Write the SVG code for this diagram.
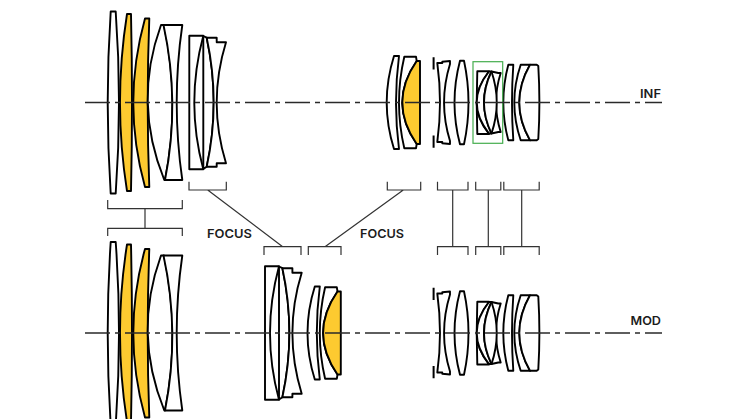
<svg xmlns="http://www.w3.org/2000/svg" width="746" height="419" viewBox="0 0 746 419">
<style>
.l{fill:#fff;stroke:#000;stroke-width:1.9;stroke-linejoin:round}
.y{fill:#fdca30;stroke:#000;stroke-width:1.9;stroke-linejoin:round}
.s{fill:none;stroke:#000;stroke-width:2}
.c{fill:none;stroke:#333;stroke-width:1.2}
.a{fill:none;stroke:#2a2a2a;stroke-width:1.3;stroke-dasharray:25 5 5 5}
text{font-family:"Inter","Liberation Sans",sans-serif;font-size:12px;font-weight:600;fill:#1c1c1c}
</style>
<defs>
<g id="front">
<path class="l" d="M110.7 11.5Q104.7 102.5 110.7 193.5H115.7Q122.3 102.5 115.7 11.5Z"/>
<path class="y" d="M127 14Q113 102.5 127 191H131Q133 102.5 131 14Z"/>
<path class="y" d="M145 18.5Q121.6 102.5 145 187H149.3Q146.1 102.5 149.3 18.5Z"/>
<path class="l" d="M161 25H164Q180.4 102.5 165 180H164.3Q132.8 102.5 161 25Z"/>
<path class="l" d="M163.5 25H182.3Q171.1 102.5 182.3 180H165Q180.4 102.5 163.5 25Z"/>
</g>
<g id="second">
<path class="l" d="M189.3 35.7H203.3Q185.3 102.5 203.3 169.3H189.3Z"/>
<path class="l" d="M203.3 36L206.7 37.7Q220.7 102.5 206.7 166.7L203.3 169Z"/>
<path class="l" d="M206.7 37.7H216.7V42.3H226Q207.4 102.5 226 163.3H216.7V166.7H206.7Q220.7 102.5 206.7 37.7Z"/>
</g>
<g id="focus">
<path class="l" d="M394 56Q379.4 102.5 394 149H399Q393 102.5 399 56Z"/>
<path class="l" d="M404.3 56.7H416L416.7 61Q387.9 102.5 416.7 144L416 148.3H404.3Q393.7 102.5 404.3 56.7Z"/>
<path class="y" d="M416.7 61H420V144H416.7Q387.9 102.5 416.7 61Z"/>
</g>
<g id="rear1">
<path class="s" d="M433.6 57.3V69.5M433.6 135.5V147.7"/>
<path class="l" d="M437.3 63H442.3V61.7L450 61V64Q438.1 102.5 450 141V144L442.3 143.3V142H437.3Q442.7 102.5 437.3 63Z"/>
<path class="l" d="M460 60.7H464Q473 102.5 464 144.3H460Q449 102.5 460 60.7Z"/>
</g>
<g id="rear2">
<path class="l" d="M477.3 71.3H489Q464.4 102.5 489 134H477.3Q476.1 102.5 477.3 71.3Z"/>
<path class="l" d="M489 71.5H491.5Q476.5 102.5 491.5 133.5H489Q464.4 102.5 489 71.5Z"/>
<path class="l" d="M491.5 71.5L498.3 73H500.7Q491.3 102.5 500.7 132H498.3L491.5 133.5Q476.5 102.5 491.5 71.5Z"/>
<path class="l" d="M491.5 71.5Q502 102.5 491.5 133.5"/>
</g>
<g id="rear3">
<path class="l" d="M508.3 64.7H513.3Q510.7 102.5 513.3 140.3H508.3Q498.3 102.5 508.3 64.7Z"/>
<path class="l" d="M520.7 64.7H530Q508.6 102.5 530 140.3H520.7Q507.9 102.5 520.7 64.7Z"/>
<path class="l" d="M530 64.7H536.7L538.3 66Q540.5 102.5 538.3 139L536.7 140.3H530Q508.6 102.5 530 64.7Z"/>
</g>
</defs>

<g id="lens-inf-front"><use href="#front"/></g>
<g id="lens-inf-second"><use href="#second"/></g>
<g id="lens-inf-focus"><use href="#focus"/></g>
<g id="lens-inf-rear1"><use href="#rear1"/></g>
<g id="lens-inf-rear2"><use href="#rear2"/></g>
<g id="lens-inf-rear3"><use href="#rear3"/></g>
<g id="lens-mod-front"><use href="#front" transform="translate(0 230.5)"/></g>
<g id="lens-mod-second"><use href="#second" transform="translate(75.7 230.5)"/></g>
<g id="lens-mod-focus"><use href="#focus" transform="translate(-79.2 230.5)"/></g>
<g id="lens-mod-rear1"><use href="#rear1" transform="translate(0 230.5)"/></g>
<g id="lens-mod-rear2"><use href="#rear2" transform="translate(0 230.5)"/></g>
<g id="lens-mod-rear3"><use href="#rear3" transform="translate(0 230.5)"/></g>

<rect id="floating-box" x="473" y="61.7" width="29.7" height="81.6" fill="none" stroke="#45ad4e" stroke-width="1.2"/>

<g id="connectors">
<line class="a" x1="85" y1="102.5" x2="662" y2="102.5"/>
<line class="a" x1="85" y1="333" x2="662" y2="333"/>
<path class="c" d="M107.7 200V208.7H182.3V200M145 208.7V228.3M107.7 236V228.3H182.3V236"/>
<path class="c" d="M189 181.7V190H226.3V181.7M207.7 190L282.7 246.7M264 255V246.7H301V255"/>
<path class="c" d="M387.3 181.7V190H420.7V181.7M403.3 190L325 246.7M308.3 255V246.7H341V255"/>
<path class="c" d="M437.5 181.7V190H468V181.7M452.7 190V246.7M437.5 255V246.7H468V255"/>
<path class="c" d="M475.7 181.7V190H500.8V181.7M488.3 190V246.7M475.7 255V246.7H500.8V255"/>
<path class="c" d="M503.8 181.7V190H539.2V181.7M521.7 190V246.7M503.8 255V246.7H539.2V255"/>
</g>

<g id="labels">
<text x="207" y="238.2" textLength="45" lengthAdjust="spacingAndGlyphs">FOCUS</text>
<text x="360" y="238.2" textLength="44" lengthAdjust="spacingAndGlyphs">FOCUS</text>
<text x="640" y="98" textLength="21" lengthAdjust="spacingAndGlyphs">INF</text>
<text x="630.5" y="325" textLength="30.5" lengthAdjust="spacingAndGlyphs">MOD</text>
</g>
</svg>
